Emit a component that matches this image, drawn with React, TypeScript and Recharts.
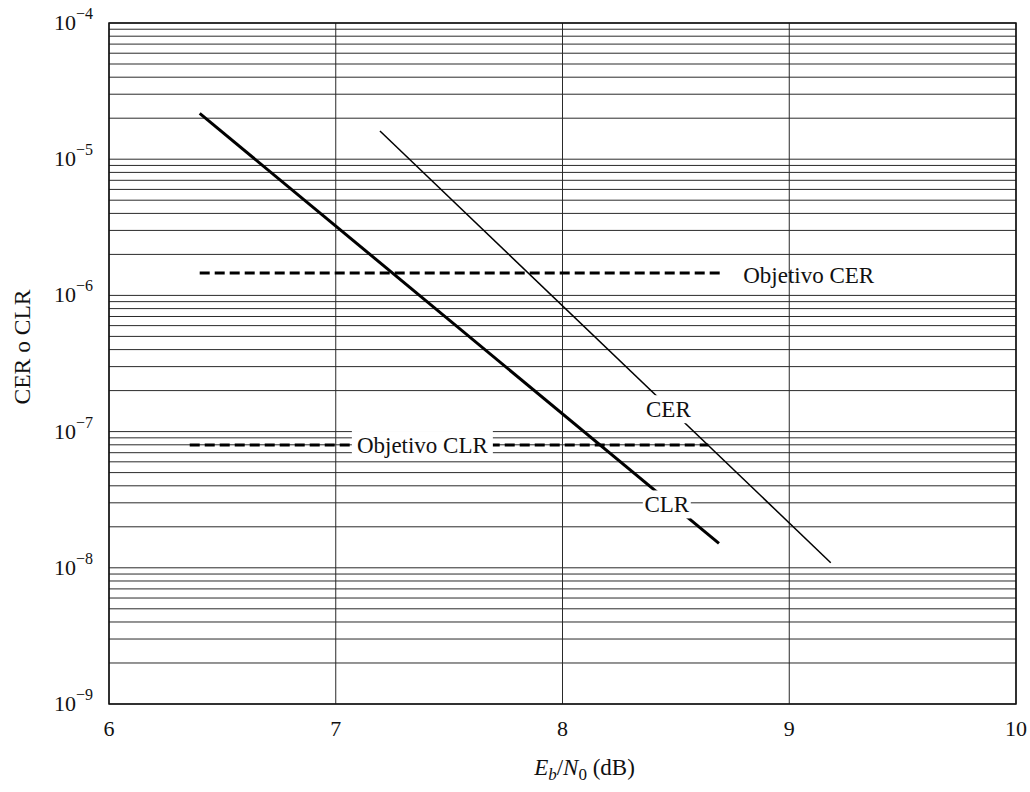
import {
  LineChart,
  Line,
  XAxis,
  YAxis,
  CartesianGrid,
  ReferenceDot,
  ReferenceArea,
} from "recharts";

const FONT = '"Liberation Serif", "Times New Roman", serif';

// Eb/N0 axis (dB)
const EBN0_TICKS = [6, 7, 8, 9, 10];

// log axis: decades and mantissas for the grid
const EXPONENTS = [-9, -8, -7, -6, -5];
const MANTISSAS = [1, 2, 3, 4, 5, 6, 7, 8, 9];
const RATE_TICKS = [
  ...EXPONENTS.flatMap((e) => MANTISSAS.map((m) => Number((m * 10 ** e).toPrecision(3)))),
  1e-4,
];

// curves
const CLR_EBN0 = [6.4, 8.69];
const CLR_RATE = [2.17e-5, 1.51e-8];
const CER_EBN0 = [7.195, 9.183];
const CER_RATE = [1.61e-5, 1.09e-8];

// objectives
const CER_GOAL_EBN0 = [6.4, 8.695];
const CER_GOAL = 1.46e-6;
const CLR_GOAL_EBN0 = [6.356, 8.643];
const CLR_GOAL = 7.97e-8;

const toPoints = (xs: number[], ys: number[]) => xs.map((x, i) => ({ x, y: ys[i] }));
const clrData = toPoints(CLR_EBN0, CLR_RATE);
const cerData = toPoints(CER_EBN0, CER_RATE);
const cerGoalData = toPoints(CER_GOAL_EBN0, CER_GOAL_EBN0.map(() => CER_GOAL));
const clrGoalData = toPoints(CLR_GOAL_EBN0, CLR_GOAL_EBN0.map(() => CLR_GOAL));

const isDecade = (v: number) => Math.abs(Math.log10(v) - Math.round(Math.log10(v))) < 1e-6;

function RateTick(props: any) {
  const { x, y, payload } = props;
  if (!isDecade(payload.value)) return null;
  const exp = Math.round(Math.log10(payload.value));
  return (
    <text x={x - 16} y={y + 7} textAnchor="end" fontFamily={FONT} fill="#111">
      <tspan fontSize={22}>10</tspan>
      <tspan fontSize={16} dy={-11}>{`\u2212${Math.abs(exp)}`}</tspan>
    </text>
  );
}

function EbN0Tick(props: any) {
  const { x, y, payload } = props;
  return (
    <text x={x} y={y + 32} textAnchor="middle" fontFamily={FONT} fontSize={22} fill="#111">
      {payload.value}
    </text>
  );
}

function XTitle(props: any) {
  const { viewBox } = props;
  const cx = viewBox.x + viewBox.width / 2 + 22;
  return (
    <text x={cx} y={viewBox.y + 71} textAnchor="middle" fontFamily={FONT} fontSize={23} fill="#111">
      <tspan fontStyle="italic">E</tspan>
      <tspan fontSize={17} dy={5} fontStyle="italic">b</tspan>
      <tspan dy={-5}>/</tspan>
      <tspan fontStyle="italic">N</tspan>
      <tspan fontSize={17} dy={5}>0</tspan>
      <tspan dy={-5}> (dB)</tspan>
    </text>
  );
}

function YTitle() {
  return (
    <text
      x={22}
      y={347}
      transform="rotate(-90, 22, 347)"
      textAnchor="middle"
      dominantBaseline="central"
      fontFamily={FONT}
      fontSize={23.5}
      fill="#111"
    >
      CER o CLR
    </text>
  );
}

// text on a white box that masks lines beneath it
function BoxedLabel({ cx, cy, text, w }: { cx: number; cy: number; text: string; w: number }) {
  return (
    <g>
      <rect x={cx - w / 2} y={cy - 14} width={w} height={28} fill="#fff" />
      <text x={cx} y={cy + 8} textAnchor="middle" fontFamily={FONT} fontSize={23} fill="#111">
        {text}
      </text>
    </g>
  );
}

export default function App() {
  return (
    <div style={{ position: "absolute", left: 0, top: 0, background: "#fff" }}>
      <LineChart
        width={1030}
        height={792}
        margin={{ top: 23, right: 14, bottom: 48, left: 49 }}
      >
        <CartesianGrid stroke="#2a2a2a" strokeWidth={1} horizontalValues={RATE_TICKS} verticalValues={EBN0_TICKS} />
        <XAxis
          dataKey="x"
          type="number"
          domain={[6, 10]}
          ticks={EBN0_TICKS}
          allowDataOverflow
          height={40}
          tickSize={0}
          tickMargin={0}
          axisLine={false}
          tick={<EbN0Tick />}
          label={<XTitle />}
        />
        <YAxis
          type="number"
          scale="log"
          domain={[1e-9, 1e-4]}
          ticks={RATE_TICKS}
          interval={0}
          allowDataOverflow
          width={60}
          tickSize={0}
          tickMargin={0}
          axisLine={false}
          tick={<RateTick />}
          label={<YTitle />}
        />
        <ReferenceArea x1={6} x2={10} y1={1e-9} y2={1e-4} fill="none" stroke="#111" strokeWidth={1.5} />

        <Line data={cerGoalData} dataKey="y" stroke="#000" strokeWidth={3} strokeDasharray="10 5" dot={false} activeDot={false} isAnimationActive={false} />
        <Line data={clrGoalData} dataKey="y" stroke="#000" strokeWidth={3} strokeDasharray="10 5" dot={false} activeDot={false} isAnimationActive={false} />
        <Line data={clrData} dataKey="y" stroke="#000" strokeWidth={3} dot={false} activeDot={false} isAnimationActive={false} />
        <Line data={cerData} dataKey="y" stroke="#000" strokeWidth={1.5} dot={false} activeDot={false} isAnimationActive={false} />

        <ReferenceDot
          x={8.467}
          y={1.46e-7}
          r={0}
          shape={(p: any) => <BoxedLabel cx={p.cx} cy={p.cy} text="CER" w={48} />}
        />
        <ReferenceDot
          x={8.46}
          y={2.92e-8}
          r={0}
          shape={(p: any) => <BoxedLabel cx={p.cx} cy={p.cy} text="CLR" w={48} />}
        />
        <ReferenceDot
          x={7.382}
          y={CLR_GOAL}
          r={0}
          shape={(p: any) => <BoxedLabel cx={p.cx} cy={p.cy} text="Objetivo CLR" w={141} />}
        />
        <ReferenceDot
          x={8.797}
          y={CER_GOAL}
          r={0}
          shape={(p: any) => (
            <text x={p.cx} y={p.cy + 10} fontFamily={FONT} fontSize={23} fill="#111">
              Objetivo CER
            </text>
          )}
        />
      </LineChart>
    </div>
  );
}
